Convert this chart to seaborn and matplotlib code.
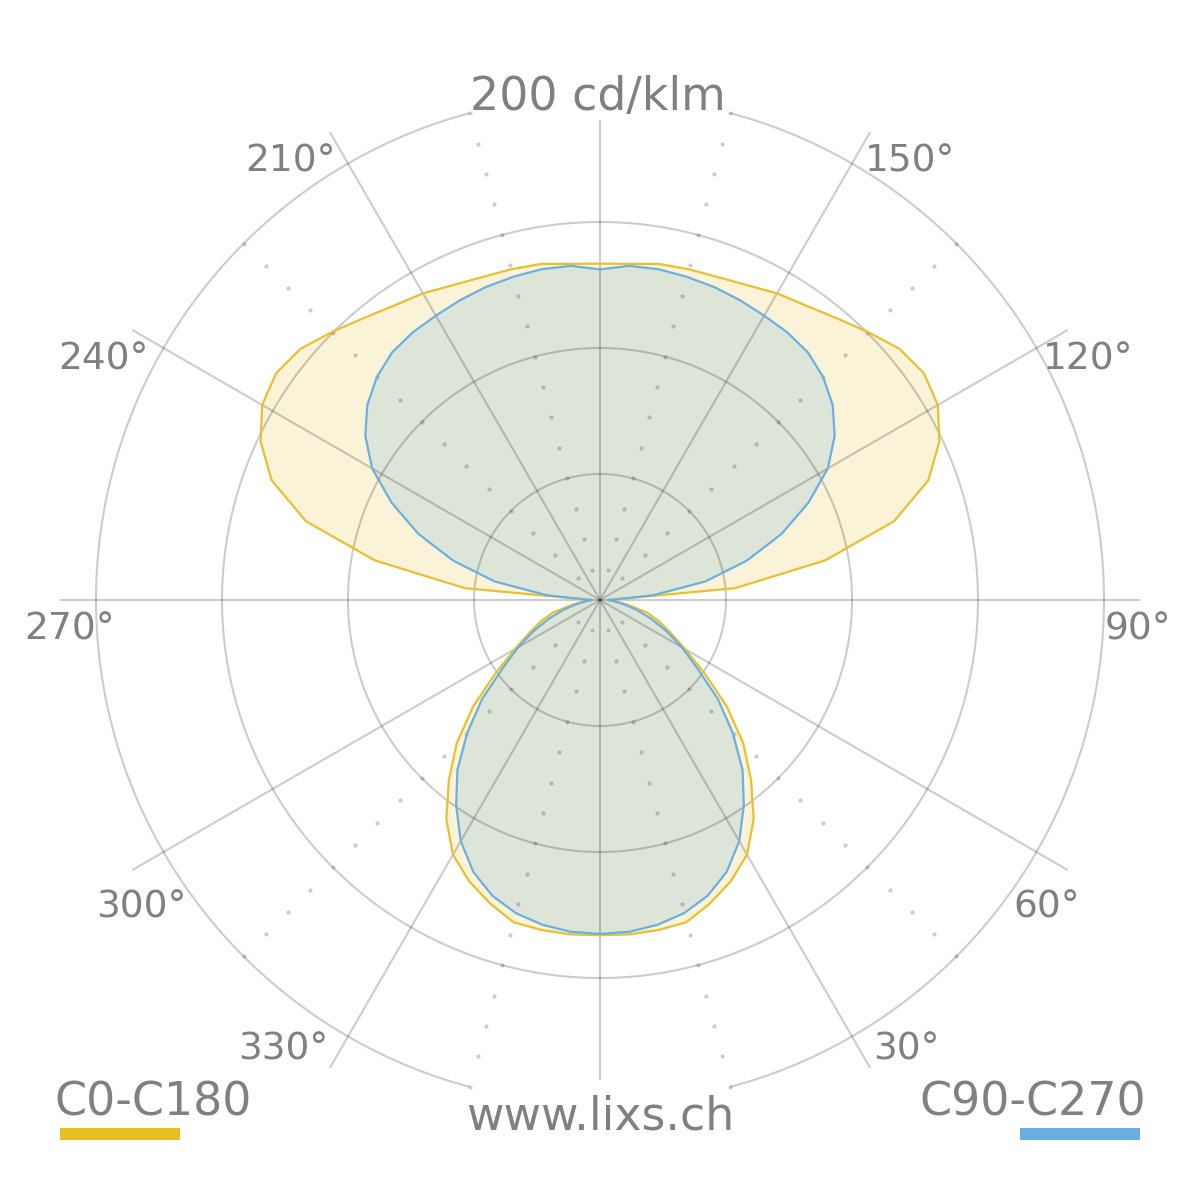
import numpy as np
import pandas as pd
import matplotlib
matplotlib.use("Agg")
import matplotlib.pyplot as plt
import seaborn as sns
from matplotlib.patches import Rectangle

# ---------------- data (cd/klm) ----------------
gamma_deg = list(range(0, 185, 5))          # 0 = nadir, 180 = zenith
c0_c180 = [133.0, 133.2, 133.0, 132.4, 128.0, 123.0, 116.7, 106.3, 93.3, 80.4,
           65.7, 50.5, 39.0, 31.0, 25.0, 19.5, 11.4, 6.5, 3.3, 53.8,
           90.9, 120.8, 138.6, 148.6, 154.8, 156.9, 155.1, 150.4, 146.0, 142.6,
           140.5, 137.9, 136.4, 135.9, 135.4, 133.9, 133.5]
c90_c270 = [132.5, 132.2, 130.9, 128.7, 124.9, 119.0, 110.5, 99.5, 88.0, 74.5,
            61.0, 47.0, 37.5, 29.0, 21.5, 15.0, 9.5, 5.5, 3.3, 21.0,
            42.5, 60.3, 76.7, 91.2, 104.4, 113.7, 120.5, 125.2, 128.3, 129.6,
            130.3, 131.3, 132.2, 132.8, 133.3, 133.1, 131.2]
series_names = ["C0-C180", "C90-C270"]
ring_values = [50, 100, 150]
outer_value = 200
unit_label = "200 cd/klm"
spoke_angles = list(range(0, 360, 30))
angle_labels = ["30°", "60°", "90°", "120°", "150°", "210°", "240°", "270°", "300°", "330°"]
dot_angles = [15, 45, 135, 165, 195, 225, 315, 345]
dot_step = 12.5
site = "www.lixs.ch"

# ---------------- style ----------------
TXT = "#808080"
YEL_LINE = "#e8c030"
YEL_FILL = "#e8c02a"
YEL_BAR = "#e8bf20"
BLU_LINE = "#6cb0e0"
BLU_FILL = "#6aaee0"
BLU_BAR = "#6aaedf"
PX_PER_UNIT = 2.52
R_AX = 540 / PX_PER_UNIT

sns.set_theme(style="white")
plt.rcParams["font.family"] = ["DejaVu Sans"]

fig = plt.figure(figsize=(12, 12), dpi=100)
ax = fig.add_axes([0.05, 0.05, 0.9, 0.9], projection="polar")
ax.set_theta_zero_location("S")
ax.set_theta_direction(1)
ax.set_axis_off()


def full_curve(vals):
    th = gamma_deg + [360 - g for g in reversed(gamma_deg[:-1])]
    rr = vals + list(reversed(vals[:-1]))
    return np.radians(th), np.array(rr)


th0, r0 = full_curve(c0_c180)
th9, r9 = full_curve(c90_c270)

# fills
ax.fill(th0, r0, color=YEL_FILL, alpha=0.18, lw=0, zorder=1)
ax.fill(th9, r9, color=BLU_FILL, alpha=0.20, lw=0, zorder=1)

# grid
gkw = dict(color="black", alpha=0.2, lw=1.5, zorder=2, clip_on=False, solid_capstyle="butt")
for a in spoke_angles:
    L = 190.3 if a in (0, 180) else R_AX
    ax.plot([np.radians(a)] * 2, [0, L], **gkw)
tt = np.radians(np.linspace(0, 360, 721))
for rv in ring_values:
    ax.plot(tt, np.full_like(tt, rv), **gkw)
for a0, a1 in [(15, 165), (195, 345)]:
    t2 = np.radians(np.linspace(a0, a1, 301))
    ax.plot(t2, np.full_like(t2, outer_value), **gkw)
dot_r = np.arange(dot_step, outer_value + 0.1, dot_step)
for a in dot_angles:
    ax.plot(np.full_like(dot_r, np.radians(a)), dot_r, ls="none", marker="o", ms=3,
            mew=0, color="black", alpha=0.2, zorder=2, clip_on=False)

# curves
df0 = pd.DataFrame({"theta": th0, "r": r0})
df9 = pd.DataFrame({"theta": th9, "r": r9})
sns.lineplot(data=df0, x="theta", y="r", sort=False, estimator=None, color=YEL_LINE,
             lw=1.6, ax=ax, zorder=3)
sns.lineplot(data=df9, x="theta", y="r", sort=False, estimator=None, color=BLU_LINE,
             lw=1.6, ax=ax, zorder=4)
ax.set_ylim(0, R_AX)
ax.set_axis_off()


def ft(xpx, ypx, s, **kw):
    fig.text(xpx / 1200, 1 - ypx / 1200, s, color=TXT, va="baseline", **kw)


# angle labels (pixel centres / baselines)
label_pos = [(906, 1059), (1047, 917), (1138, 639), (1088, 369), (910, 171),
             (291, 171), (103, 369), (70, 639), (141, 917), (283, 1059)]
for s, (x, y) in zip(angle_labels, label_pos):
    ft(x, y, s, ha="center", fontsize=27)

ft(598, 110, unit_label, ha="center", fontsize=33)
ft(600, 1130, site, ha="center", fontsize=33)
ft(54, 1116, series_names[0], ha="left", fontsize=33)
ft(1146, 1116, series_names[1], ha="right", fontsize=33)

fig.add_artist(Rectangle((60 / 1200, 1 - 1140 / 1200), 120 / 1200, 12 / 1200,
                         transform=fig.transFigure, color=YEL_BAR, lw=0))
fig.add_artist(Rectangle((1020 / 1200, 1 - 1140 / 1200), 120 / 1200, 12 / 1200,
                         transform=fig.transFigure, color=BLU_BAR, lw=0))

fig.savefig("out.png", dpi=100, facecolor="white")
